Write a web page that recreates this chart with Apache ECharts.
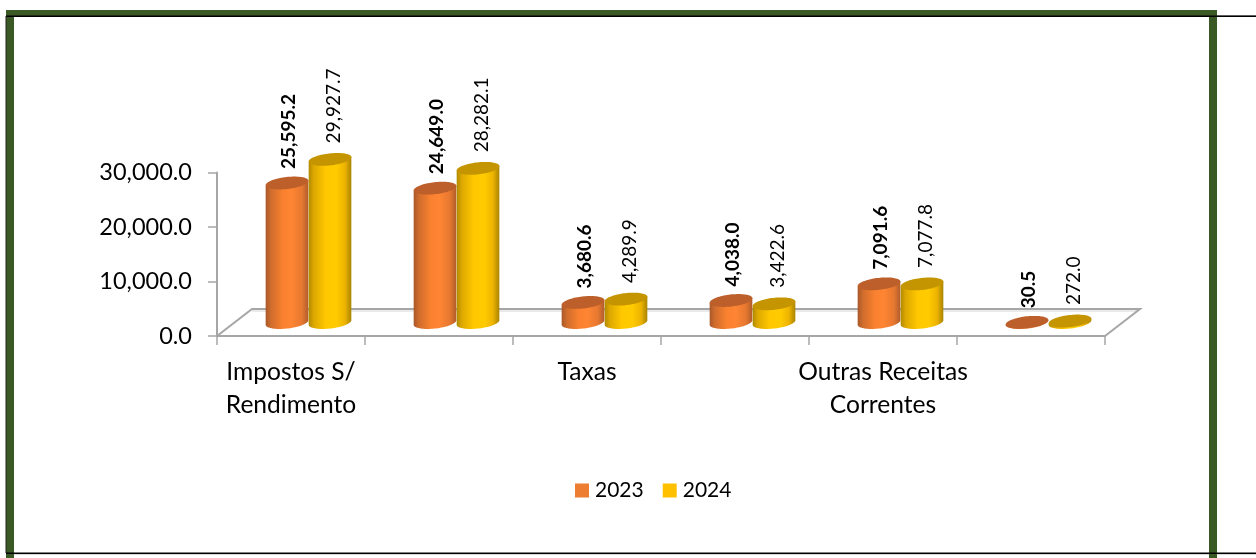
<!DOCTYPE html>
<html><head><meta charset="utf-8">
<style>html,body{margin:0;padding:0;background:#fff}#c{width:1256px;height:558px}</style>
<script src="https://cdn.jsdelivr.net/npm/echarts@6/dist/echarts.min.js"></script>
</head><body><div id="c"></div>
<script>
const categories = ["Impostos S/\nRendimento", "", "Taxas", "", "Outras Receitas\nCorrentes", ""];
const values2023 = [25595.2, 24649.0, 3680.6, 4038.0, 7091.6, 30.5];
const values2024 = [29927.7, 28282.1, 4289.9, 3422.6, 7077.8, 272.0];
const yTicks = {min: 0, max: 30000, interval: 10000};

const FONT = 'Lato';
const DEPTH = {x: 35, y: -27};
const RX = 21.5, RY = 6, TILT = -6.5 * Math.PI / 180;
const GREY = '#A6A6A6', GREEN = '#3A5925';

const toRows = vals => vals.map((v, i) => [i, v]);
const fmt = v => v.toLocaleString('en-US', {minimumFractionDigits: 1, maximumFractionDigits: 1});

function ellPt(cx, cy, t) {
  const c = Math.cos(t), s = Math.sin(t);
  return [cx + RX * c * Math.cos(TILT) - RY * s * Math.sin(TILT),
          cy + RX * c * Math.sin(TILT) + RY * s * Math.cos(TILT)];
}
function tiltAngle(){ return Math.atan2(RY * Math.sin(TILT), RX * Math.cos(TILT)); }

function barSeries(name, rows, side, colors, bold, labelDx, labelGap) {
  return {
    type: 'custom', name, data: rows, clip: false, animation: false, silent: true, z: 3,
    encode: {x: 0, y: 1},
    itemStyle: {color: colors.legend},
    renderItem(params, api) {
      const val = api.value(1);
      const top = api.coord([api.value(0), val]);
      const base = api.coord([api.value(0), 0]);
      const cx = top[0] + DEPTH.x / 2 + side * RX;
      const topY = top[1] + DEPTH.y / 2, baseY = base[1] + DEPTH.y / 2;
      const a0 = tiltAngle();
      const N = 40, body = [], cap = [];
      for (let i = 0; i <= N; i++) body.push(ellPt(cx, baseY, a0 + Math.PI * i / N));
      body.push(ellPt(cx, topY, a0 + Math.PI));
      body.push(ellPt(cx, topY, a0));
      for (let i = 0; i < 2 * N; i++) cap.push(ellPt(cx, topY, Math.PI * i / N));
      const children = [];
      children.push({type: 'polygon', shape: {points: body}, style: {
        fill: {type: 'linear', x: 0, y: 0, x2: 1, y2: 0, colorStops: colors.stops}
      }});
      children.push({type: 'polygon', shape: {points: cap}, style: {fill: colors.cap}});
      children.push({type: 'text', x: cx + labelDx, y: topY - labelGap, rotation: Math.PI / 2, style: {
        text: fmt(val), fill: '#000', align: 'left', verticalAlign: 'middle',
        font: (bold ? 'bold ' : '') + '19px ' + FONT
      }});
      return {type: 'group', children};
    }
  };
}

const orange = {legend: '#ED7D31', cap: '#BC5F2A', stops: [
  {offset: 0, color: '#A9582A'}, {offset: .12, color: '#CF6C2D'}, {offset: .4, color: '#F9812F'},
  {offset: .6, color: '#FF8533'}, {offset: .85, color: '#E67830'}, {offset: 1, color: '#B05C2A'}]};
const yellow = {legend: '#FFC000', cap: '#C49500', stops: [
  {offset: 0, color: '#B08A00'}, {offset: .12, color: '#DDA800'}, {offset: .4, color: '#FFC800'},
  {offset: .65, color: '#FFCB00'}, {offset: .85, color: '#EDB400'}, {offset: 1, color: '#A98400'}]};

const floorSeries = {
  type: 'custom', name: 'floor', data: [[0, 0]], clip: false, animation: false, silent: true, z: 1,
  encode: {x: 0, y: 1},
  renderItem(params, api) {
    const s = api.size([1, 0])[0];
    const o = api.coord([0, 0]);
    const L = o[0] - s / 2, R = L + s * categories.length, Y = o[1];
    const bl = [L + DEPTH.x, Y + DEPTH.y], br = [R + DEPTH.x, Y + DEPTH.y];
    return {type: 'group', children: [
      {type: 'polyline', shape: {points: [[bl[0], bl[1] + 2], [br[0] - 2, br[1] + 2]]},
       style: {stroke: '#E3E3E3', lineWidth: 1.5, fill: 'none'}},
      {type: 'polyline', shape: {points: [[L, Y], bl, br, [R, Y]]},
       style: {stroke: GREY, lineWidth: 2, fill: 'none'}}
    ]};
  }
};

function rect(x, y, w, h, fill, z) {
  return {type: 'rect', silent: true, z: z || 10, shape: {x, y, width: w, height: h}, style: {fill}};
}

const chart = echarts.init(document.getElementById('c'), null, {renderer: 'canvas'});
chart.setOption({
  animation: false,
  backgroundColor: '#fff',
  textStyle: {fontFamily: FONT},
  grid: {left: 217, top: 172.5, width: 888, height: 163.5, containLabel: false},
  legend: {
    left: 570, top: 475, icon: 'rect', itemWidth: 14, itemHeight: 14, itemGap: 19,
    data: ['2023', '2024'], selectedMode: false,
    textStyle: {fontFamily: FONT, fontSize: 21, color: '#000', padding: [0, 0, 0, 1]}
  },
  xAxis: {
    type: 'category', data: categories,
    axisLine: {lineStyle: {color: GREY, width: 2}},
    axisTick: {show: true, length: 9, interval: 0, alignWithLabel: false, lineStyle: {color: GREY, width: 1.5}},
    axisLabel: {interval: 0, margin: 20, fontFamily: FONT, fontSize: 24.6, color: '#000', lineHeight: 33}
  },
  yAxis: {
    type: 'value', min: yTicks.min, max: yTicks.max, interval: yTicks.interval,
    axisLine: {show: true, lineStyle: {color: GREY, width: 2}},
    axisTick: {show: true, length: 9, lineStyle: {color: GREY, width: 1.5}},
    splitLine: {show: false},
    axisLabel: {margin: 25, fontFamily: FONT, fontSize: 23.5, color: '#000', padding: [6, 0, 0, 0], formatter: v => fmt(v)}
  },
  series: [
    floorSeries,
    barSeries('2023', toRows(values2023), -1, orange, true, 2, 14),
    barSeries('2024', toRows(values2024), 1, yellow, false, 4, 16)
  ],
  graphic: {elements: [
    rect(6, 10, 1211, 6, GREEN),
    rect(6, 16, 8, 542, GREEN),
    rect(1209, 16, 8, 542, GREEN),
    rect(1217, 15, 39, 1, '#BDBDBD'),
    rect(6, 15.5, 1250, 1.5, '#000', 11),
    rect(5.5, 16, 1, 537, '#222', 11),
    rect(6, 552.5, 1250, 1.5, '#000', 11),
    rect(6, 554, 1250, 1, '#D8D8D8', 9)
  ]}
});
</script></body></html>
